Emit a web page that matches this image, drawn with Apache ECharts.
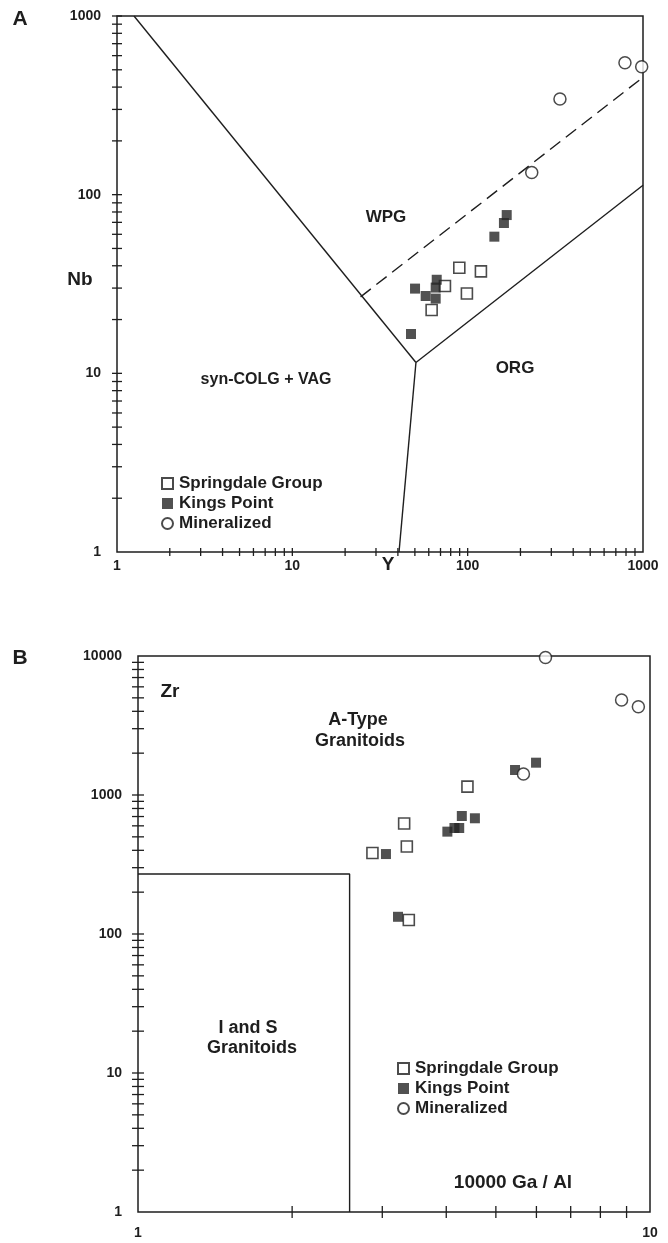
<!DOCTYPE html>
<html style="height: 100%">

<head>
    <meta charset="utf-8">
</head>

<body style="height: 100%; margin: 0; background: #fff">
    <div id="main" style="width: 668px; height: 1243px"></div>

    <script type="text/javascript" src="https://cdn.jsdelivr.net/npm/echarts@6/dist/echarts.min.js"></script>

    <script type="text/javascript">
        // Panel A: Nb vs Y
        var springA = [[62.3, 22.6], [74.2, 30.8], [89.6, 39.0], [119, 37.2], [99, 28.0]];
        var kingsA = [[47.5, 16.6], [50.1, 29.8], [57.6, 27.1], [66.6, 33.4], [65.7, 30.2], [65.7, 26.2], [142, 58.2], [161, 69.4], [167, 76.9]];
        var minA = [[789, 548], [983, 520], [336, 343], [232, 133]];

        // Panel B: Zr vs 10000 Ga/Al
        var springB = [[2.87, 383], [3.35, 426], [3.31, 624], [4.40, 1148], [3.38, 126]];
        var kingsB = [[3.05, 376], [3.22, 133], [4.02, 545], [4.15, 579], [4.24, 579], [4.29, 706], [4.55, 680], [5.45, 1513], [5.99, 1708]];
        var minB = [[5.66, 1416], [6.25, 9750], [8.80, 4825], [9.49, 4320]];

        // field boundaries
        var wpgLineA = [[1.25, 1000], [50.7, 11.5]];
        var orgLineA = [[50.7, 11.5], [1000, 113]];
        var vagOrgA = [[50.7, 11.5], [40.6, 1]];
        var dashedA = [[24.5, 26.8], [1000, 454]];
        var isBoxB = [[1, 270], [2.59, 270], [2.59, 1]];

        // minor tick values
        var ticksA_x = [2, 3, 4, 5, 6, 7, 8, 9, 10, 20, 30, 40, 50, 60, 70, 80, 90, 100, 200, 300, 400, 500, 600, 700, 800, 900];
        var ticksA_y = [2, 3, 4, 5, 6, 7, 8, 9, 10, 20, 30, 40, 50, 60, 70, 80, 90, 100, 200, 300, 400, 500, 600, 700, 800, 900, 1000];
        var ticksB_x = [2, 3, 4, 5, 6, 7, 8, 9];
        var ticksB_y = [2, 3, 4, 5, 6, 7, 8, 9, 10, 20, 30, 40, 50, 60, 70, 80, 90, 100, 200, 300, 400, 500, 600, 700, 800, 900, 1000, 2000, 3000, 4000, 5000, 6000, 7000, 8000, 9000];

        var ink = '#1e1e1e';
        var font = 'Liberation Sans';

        var dom = document.getElementById('main');
        var myChart = echarts.init(dom, null, { renderer: 'canvas' });

        function logAxis(gridIndex, min, max, margin) {
            return {
                type: 'log', logBase: 10, gridIndex: gridIndex, min: min, max: max,
                axisLine: { show: false },
                axisTick: { show: false },
                splitLine: { show: false },
                axisLabel: {
                    margin: margin, color: ink, fontFamily: font, fontSize: 14, fontWeight: 'bold',
                    formatter: function (v) { return String(Math.round(v)); }
                }
            };
        }

        function tickSeries(xi, yi, values, dir, len, xmin, ymin) {
            return {
                type: 'custom', xAxisIndex: xi, yAxisIndex: yi, silent: true, clip: false,
                data: values.map(function (v) { return dir === 'y' ? [xmin, v] : [v, ymin]; }),
                renderItem: function (params, api) {
                    var p = api.coord([api.value(0), api.value(1)]);
                    var shape = dir === 'y'
                        ? { x1: p[0] - len, y1: p[1], x2: p[0] + len, y2: p[1] }
                        : { x1: p[0], y1: p[1] - len, x2: p[0], y2: p[1] + len };
                    return { type: 'line', shape: shape, style: { stroke: ink, lineWidth: 1.3 } };
                }
            };
        }

        function boundary(xi, yi, data, dashed) {
            return {
                type: 'line', xAxisIndex: xi, yAxisIndex: yi, data: data, symbol: 'none', silent: true,
                lineStyle: { color: ink, width: 1.4, type: dashed ? [13, 7] : 'solid' }
            };
        }

        var openSq = { color: '#fff', borderColor: ink, borderWidth: 1.6 };
        var fillSq = { color: '#262626', borderColor: '#262626', borderWidth: 0 };
        var openCi = { color: '#fff', borderColor: ink, borderWidth: 1.5 };

        // text centred on (x, y)
        function label(x, y, str, size) {
            return {
                type: 'text', x: x, y: y, silent: true,
                style: {
                    text: str, fill: ink, font: 'bold ' + size + 'px "' + font + '"',
                    align: 'center', verticalAlign: 'middle'
                }
            };
        }

        function legendAt(left, top) {
            return {
                left: left, top: top, orient: 'vertical', itemGap: 3, itemWidth: 11, itemHeight: 11,
                textStyle: { color: ink, fontFamily: font, fontSize: 17, fontWeight: 'bold', padding: [0, 0, 0, 1] },
                data: ['Springdale Group', 'Kings Point', 'Mineralized']
            };
        }

        var option = {
            animation: false,
            backgroundColor: '#fff',
            grid: [
                { left: 117, top: 16, width: 526, height: 536, show: true, borderColor: ink, borderWidth: 1.5 },
                { left: 138, top: 656, width: 512, height: 556, show: true, borderColor: ink, borderWidth: 1.5 }
            ],
            xAxis: [logAxis(0, 1, 1000, 7), logAxis(1, 1, 10, 14)],
            yAxis: [logAxis(0, 1, 1000, 16), logAxis(1, 1, 10000, 16)],
            legend: [legendAt(156, 470), legendAt(392, 1055)],
            graphic: [
                label(20, 19, 'A', 21),
                label(20, 658, 'B', 21),
                label(80, 280, 'Nb', 19),
                label(388, 565, 'Y', 19),
                label(386, 217, 'WPG', 17),
                label(515, 368, 'ORG', 17),
                label(266, 380, 'syn-COLG + VAG', 16),
                label(170, 692, 'Zr', 19),
                label(358, 720, 'A-Type', 18),
                label(360, 741, 'Granitoids', 18),
                label(248, 1028, 'I and S', 18),
                label(252, 1048, 'Granitoids', 18),
                label(513, 1183, '10000 Ga / Al', 19)
            ],
            series: [
                boundary(0, 0, wpgLineA, false),
                boundary(0, 0, orgLineA, false),
                boundary(0, 0, vagOrgA, false),
                boundary(0, 0, dashedA, true),
                boundary(1, 1, isBoxB, false),
                tickSeries(0, 0, ticksA_y, 'y', 5, 1, 1),
                tickSeries(0, 0, ticksA_x, 'x', 4, 1, 1),
                tickSeries(1, 1, ticksB_y, 'y', 6, 1, 1),
                tickSeries(1, 1, ticksB_x, 'x', 6, 1, 1),
                { name: 'Springdale Group', type: 'scatter', xAxisIndex: 0, yAxisIndex: 0, symbol: 'rect', symbolSize: 11, itemStyle: openSq, data: springA },
                { name: 'Kings Point', type: 'scatter', xAxisIndex: 0, yAxisIndex: 0, symbol: 'rect', symbolSize: 10, itemStyle: fillSq, data: kingsA },
                { name: 'Mineralized', type: 'scatter', xAxisIndex: 0, yAxisIndex: 0, symbol: 'circle', symbolSize: 12, itemStyle: openCi, data: minA },
                { name: 'Springdale Group', type: 'scatter', xAxisIndex: 1, yAxisIndex: 1, symbol: 'rect', symbolSize: 11, itemStyle: openSq, data: springB },
                { name: 'Kings Point', type: 'scatter', xAxisIndex: 1, yAxisIndex: 1, symbol: 'rect', symbolSize: 10, itemStyle: fillSq, data: kingsB },
                { name: 'Mineralized', type: 'scatter', xAxisIndex: 1, yAxisIndex: 1, symbol: 'circle', symbolSize: 12, itemStyle: openCi, data: minB }
            ]
        };

        if (option && typeof option === 'object') {
            myChart.setOption(option);
        }
    </script>
</body>

</html>
